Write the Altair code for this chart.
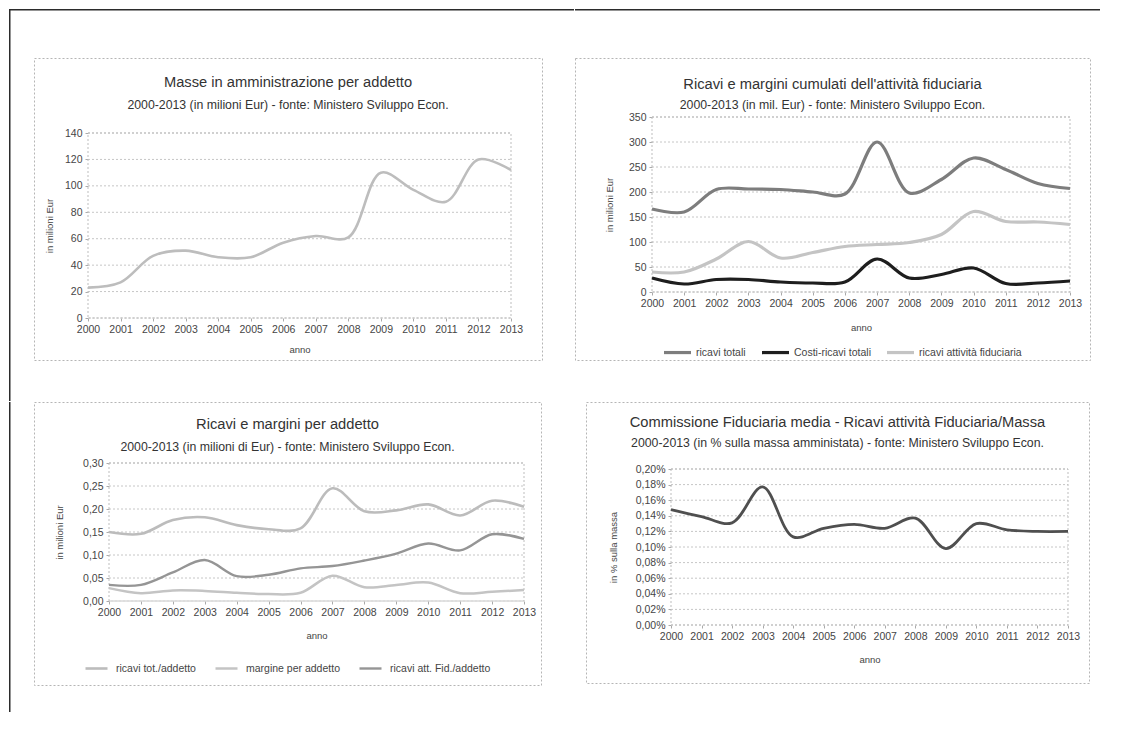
import altair as alt
import pandas as pd

FONT = "Liberation Sans"

# ---------------- data ----------------
years = list(range(2000, 2014))

# panel 1 - Masse in amministrazione per addetto (milioni Eur)
masse = [23, 27, 47, 51, 46, 46, 57, 62, 61, 110, 97, 88, 120, 112]

# panel 2 - Ricavi e margini cumulati (mil. Eur)
names2 = ["ricavi  totali", "Costi-ricavi  totali", "ricavi attività fiduciaria"]
ricavi_totali = [166, 160, 205, 206, 205, 200, 196, 300, 198, 225, 268, 245, 217, 207]
costi_ricavi = [28, 16, 25, 25, 20, 18, 20, 66, 28, 35, 48, 17, 18, 22]
ricavi_fid = [40, 40, 66, 101, 68, 79, 91, 95, 99, 115, 161, 141, 140, 135]

# panel 3 - Ricavi e margini per addetto (milioni Eur)
names3 = ["ricavi tot./addetto", "margine per addetto", "ricavi att. Fid./addetto"]
ricavi_tot_add = [0.150, 0.146, 0.176, 0.182, 0.165, 0.156, 0.158, 0.245, 0.195, 0.197, 0.210, 0.186, 0.218, 0.205]
margine_add = [0.028, 0.017, 0.023, 0.022, 0.018, 0.015, 0.018, 0.055, 0.030, 0.035, 0.040, 0.017, 0.020, 0.024]
ricavi_fid_add = [0.035, 0.035, 0.062, 0.089, 0.054, 0.057, 0.071, 0.076, 0.088, 0.103, 0.125, 0.110, 0.145, 0.135]

# panel 4 - Commissione fiduciaria media (% sulla massa)
commissione = [0.148, 0.139, 0.131, 0.177, 0.113, 0.124, 0.129, 0.124, 0.137, 0.098, 0.130, 0.122, 0.120, 0.120]

# axis ticks
y_ticks1 = [0, 20, 40, 60, 80, 100, 120, 140]
y_ticks2 = [0, 50, 100, 150, 200, 250, 300, 350]
y_ticks3 = [0.00, 0.05, 0.10, 0.15, 0.20, 0.25, 0.30]
y_ticks4 = [0.00, 0.02, 0.04, 0.06, 0.08, 0.10, 0.12, 0.14, 0.16, 0.18, 0.20]

# titles
titles = [
    ("Masse in amministrazione per addetto",
     "2000-2013 (in milioni Eur)  - fonte: Ministero Sviluppo Econ."),
    ("Ricavi e margini cumulati dell'attività fiduciaria",
     "2000-2013 (in mil. Eur) - fonte: Ministero Sviluppo Econ."),
    ("Ricavi e margini per addetto",
     "2000-2013 (in milioni di Eur)  - fonte: Ministero Sviluppo Econ."),
    ("Commissione Fiduciaria media - Ricavi attività Fiduciaria/Massa",
     "2000-2013 (in % sulla massa amministata) - fonte: Ministero Sviluppo Econ."),
]
y_titles = ["in milioni Eur", "in milioni Eur", "in milioni Eur", "in % sulla massa"]

one = pd.DataFrame({"k": [0]})

TEXT = "#333333"
LAB = "#454545"
DOT = "#bdbdbd"
PAGE = "#2b2b2b"

EXPR_INT = "format(datum.value, 'd')"
EXPR_2 = "replace(format(datum.value, '.2f'), '.', ',')"
EXPR_P = "replace(format(datum.value, '.2f'), '.', ',') + '%'"


class Geo:
    def __init__(self, w, h, left, top, W, H, ytd, xtd, ty, sy):
        self.w, self.h, self.left, self.top, self.W, self.H = w, h, left, top, W, H
        self.ytd, self.xtd, self.ty, self.sy = ytd, xtd, ty, sy


def enc_x(g):
    return alt.X("anno:Q",
                 scale=alt.Scale(domain=[2000, 2013], range=[g.left, g.left + g.W], nice=False, zero=False),
                 axis=alt.Axis(values=years, format="d", title="anno", labelFlush=False, labelOverlap=False,
                               grid=False, offset=-(g.h - g.top - g.H),
                               titleX=g.left + g.W / 2, titleY=g.xtd, titleBaseline="middle"))


def enc_y(g, domain, ticks, title, expr):
    return alt.Y("valore:Q",
                 scale=alt.Scale(domain=domain, range=[g.top + g.H, g.top], nice=False, zero=False),
                 axis=alt.Axis(values=ticks, title=title, labelExpr=expr, labelOverlap=False, labelFlush=False,
                               grid=False, offset=-g.left, titleX=-g.ytd, titleY=g.top + g.H / 2,
                               titleBaseline="middle"))


def decor(g, domain, ticks, title, expr, title_pair):
    grid = alt.Chart(pd.DataFrame({"valore": ticks})).mark_rule(
        color="#c6c6c6", strokeDash=[2, 2], strokeWidth=1).encode(
        y=enc_y(g, domain, ticks, title, expr), x=alt.value(g.left), x2=alt.value(g.left + g.W))
    frame = alt.Chart(one).mark_rect(fill="white", fillOpacity=0, stroke=DOT, strokeWidth=1,
                                     strokeDash=[2, 2]).encode(
        x=alt.value(g.left), x2=alt.value(g.left + g.W), y=alt.value(g.top), y2=alt.value(g.top + g.H))
    cx = g.w / 2
    t1 = alt.Chart(one).mark_text(font=FONT, fontSize=14.7, color=TEXT, align="center",
                                  baseline="middle").encode(
        x=alt.value(cx), y=alt.value(g.ty), text=alt.value(title_pair[0]))
    t2 = alt.Chart(one).mark_text(font=FONT, fontSize=12.3, color=TEXT, align="center",
                                  baseline="middle").encode(
        x=alt.value(cx), y=alt.value(g.sy), text=alt.value(title_pair[1]))
    return [grid, frame, t1, t2]


def bar(x1, x2, y1, y2):
    # page frame segment (filled thin rectangle)
    return alt.Chart(one).mark_rect(color=PAGE).encode(
        x=alt.value(x1), x2=alt.value(x2), y=alt.value(y1), y2=alt.value(y2))


# ---------------- panel 1 ----------------
g1 = Geo(w=508, h=302, left=54, top=75, W=423, H=185, ytd=39, xtd=31, ty=25, sy=47)
d1 = pd.DataFrame({"anno": years, "valore": masse})
line1 = alt.Chart(d1).mark_line(interpolate="catmull-rom", color="#bdbdbd", strokeWidth=2.6).encode(
    x=enc_x(g1), y=enc_y(g1, [0, 140], y_ticks1, y_titles[0], EXPR_INT))
p1 = alt.layer(*decor(g1, [0, 140], y_ticks1, y_titles[0], EXPR_INT, titles[0]), line1,
               bar(-25, g1.w + 32, -49, -47.5), bar(-25, -23.5, -49, g1.h + 41)).properties(
    width=g1.w, height=g1.h)

# ---------------- panel 2 ----------------
g2 = Geo(w=515, h=302, left=77, top=59, W=418, H=175, ytd=43, xtd=35, ty=27, sy=47)
d2 = pd.DataFrame({
    "anno": years * 3,
    "valore": ricavi_totali + costi_ricavi + ricavi_fid,
    "serie": [names2[0]] * 14 + [names2[1]] * 14 + [names2[2]] * 14,
})
leg2 = alt.Legend(orient="none", legendX=87, legendY=279, direction="horizontal", title=None,
                  symbolType="stroke", symbolSize=729, labelFont=FONT, labelFontSize=10.5,
                  labelColor=LAB, columnPadding=6, labelOffset=3)
line2 = alt.Chart(d2).mark_line(interpolate="catmull-rom").encode(
    x=enc_x(g2), y=enc_y(g2, [0, 350], y_ticks2, y_titles[1], EXPR_INT),
    color=alt.Color("serie:N", scale=alt.Scale(domain=names2, range=["#7d7d7d", "#1e1e1e", "#c4c4c4"]),
                    legend=leg2),
    strokeWidth=alt.StrokeWidth("serie:N", scale=alt.Scale(domain=names2, range=[3.2, 3.2, 2.4]),
                                legend=leg2),
)
p2 = alt.layer(*decor(g2, [0, 350], y_ticks2, y_titles[1], EXPR_INT, titles[1]), line2,
               bar(0, 525, -49, -47.5)).properties(
    width=g2.w, height=g2.h)

# ---------------- panel 3 ----------------
g3 = Geo(w=507, h=283, left=75, top=61, W=415, H=138, ytd=50, xtd=34, ty=23, sy=45)
d3 = pd.DataFrame({
    "anno": years * 3,
    "valore": ricavi_tot_add + margine_add + ricavi_fid_add,
    "serie": [names3[0]] * 14 + [names3[1]] * 14 + [names3[2]] * 14,
})
leg3 = alt.Legend(orient="none", legendX=50, legendY=254, direction="horizontal", title=None,
                  symbolType="stroke", symbolSize=484, labelFont=FONT, labelFontSize=10.5,
                  labelColor=LAB, columnPadding=14, labelOffset=7)
line3 = alt.Chart(d3).mark_line(interpolate="catmull-rom").encode(
    x=enc_x(g3), y=enc_y(g3, [0, 0.30], y_ticks3, y_titles[2], EXPR_2),
    color=alt.Color("serie:N", scale=alt.Scale(domain=names3, range=["#bcbcbc", "#c4c4c4", "#959595"]),
                    legend=leg3),
    strokeWidth=alt.StrokeWidth("serie:N", scale=alt.Scale(domain=names3, range=[2.6, 2.4, 2.2]),
                                legend=leg3),
)
p3 = alt.layer(*decor(g3, [0, 0.30], y_ticks3, y_titles[2], EXPR_2, titles[2]), line3,
               bar(-25, -23.5, 0, 310)).properties(
    width=g3.w, height=g3.h)

# ---------------- panel 4 ----------------
g4 = Geo(w=503, h=281, left=85, top=67, W=397, H=156, ytd=58, xtd=34, ty=21, sy=41)
d4 = pd.DataFrame({"anno": years, "valore": commissione})
line4 = alt.Chart(d4).mark_line(interpolate="catmull-rom", color="#4f4f4f", strokeWidth=2.8).encode(
    x=enc_x(g4), y=enc_y(g4, [0, 0.20], y_ticks4, y_titles[3], EXPR_P))
p4 = alt.layer(*decor(g4, [0, 0.20], y_ticks4, y_titles[3], EXPR_P, titles[3]), line4).properties(
    width=g4.w, height=g4.h)

row1 = alt.hconcat(p1, p2, spacing=-3).resolve_scale(color="independent", strokeWidth="independent")
row2 = alt.hconcat(p3, p4, spacing=43).resolve_scale(color="independent", strokeWidth="independent")

chart = alt.vconcat(row1, row2, spacing=-3).resolve_scale(
    color="independent", strokeWidth="independent"
).properties(
    padding={"left": 0, "top": 0, "right": 0, "bottom": 0},
    background="white",
).configure_view(
    stroke="#b5b5b5", strokeDash=[2, 2], strokeWidth=1
).configure_axis(
    labelFont=FONT, labelFontSize=10.5, labelColor=LAB, titleFont=FONT, titleFontSize=9.5,
    titleFontWeight="normal", titleColor=LAB, domain=False, tickColor="#aaaaaa", tickSize=3,
    labelPadding=3,
)

chart.save("out.html", embed_options={"renderer": "svg", "actions": False})
